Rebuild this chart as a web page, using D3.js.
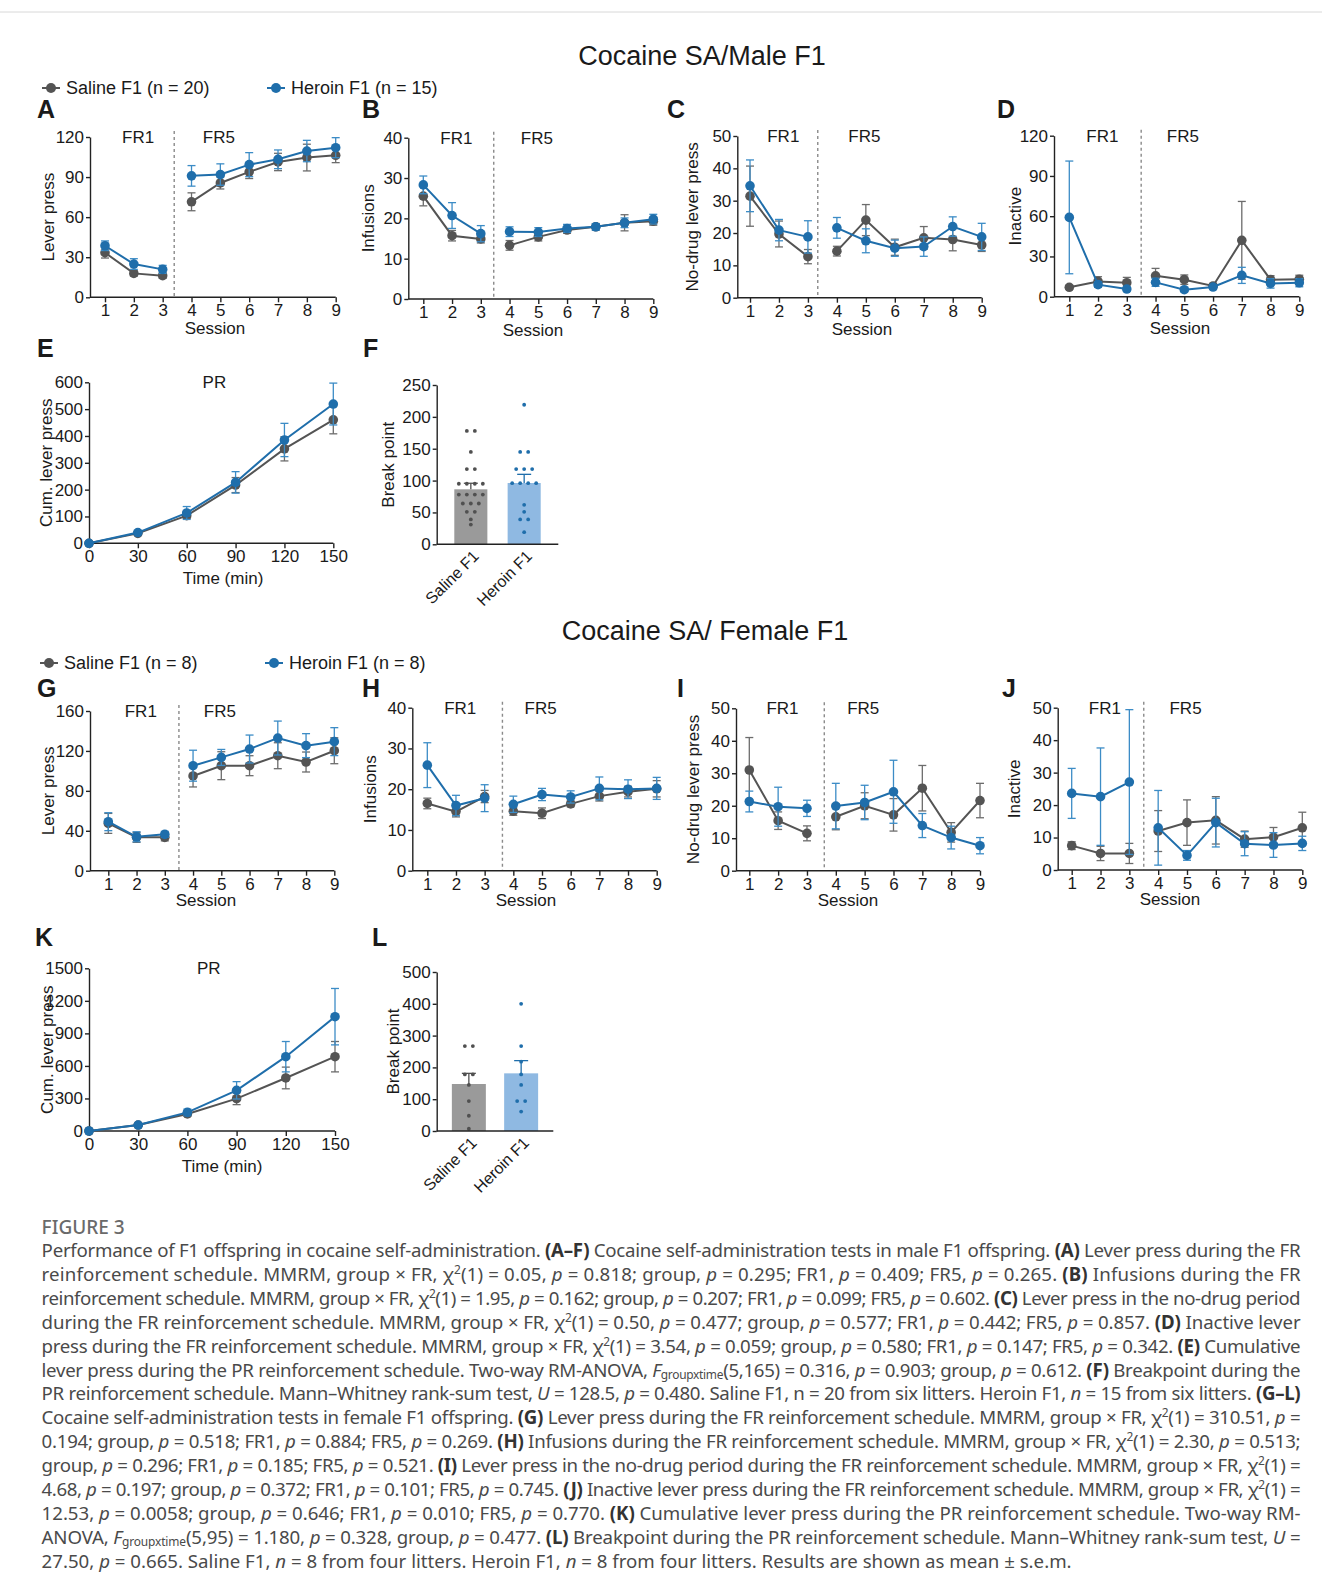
<!DOCTYPE html>
<html>
<head>
<meta charset="utf-8">
<script src="https://cdn.jsdelivr.net/npm/d3@7"></script>
<style>
  body { margin: 0; background: #fff; }
  svg text { font-family: "Liberation Sans", Arial, sans-serif; fill: #1a1a1a; }
  svg .cap text { font-family: "Noto Sans", sans-serif; fill: #4a4a4a; }
</style>
</head>
<body>
<svg id="fig" width="1322" height="1591"></svg>
<script>
// ---- data ----
var sessions = [1, 2, 3, 4, 5, 6, 7, 8, 9];
var timeMin = [0, 30, 60, 90, 120, 150];
var groups = ["Saline F1", "Heroin F1"];

// male F1 (A-F)
var leverSalM = [33.4, 17.9, 16.2, 71.5, 85.6, 93.9, 101.3, 104.6, 106.3];
var leverSalMErr = [4, 2, 2, 6.7, 4.5, 5, 6.5, 10, 5.5];
var leverHerM = [38.6, 24.9, 20.9, 90.9, 91.9, 99.3, 103.3, 109.5, 112];
var leverHerMErr = [3.6, 4, 3, 7.7, 8, 9, 7, 8, 7.5];

var infSalM = [25.5, 15.7, 14.9, 13.3, 15.4, 17.1, 17.9, 18.9, 19.3];
var infSalMErr = [2.4, 1.3, 1, 1.2, 1, 0.8, 0.8, 2, 1];
var infHerM = [28.3, 20.7, 16.2, 16.7, 16.6, 17.5, 17.9, 18.9, 19.8];
var infHerMErr = [2.2, 3.2, 2, 1.2, 1.1, 1, 0.8, 1.2, 1.2];

var noDrugSalM = [31.4, 19.7, 12.7, 14.4, 24, 15.6, 18.5, 18, 16.3];
var noDrugSalMErr = [9.3, 4, 2.2, 1.5, 4.8, 2.5, 3.5, 3.5, 2];
var noDrugHerM = [34.6, 20.9, 18.8, 21.6, 17.6, 15.3, 15.8, 22, 18.8];
var noDrugHerMErr = [8, 3.3, 5, 3.2, 3.7, 2.5, 3, 3, 4.2];

var inactSalM = [7, 11.4, 10.4, 15.6, 12.7, 8, 42, 12.7, 13];
var inactSalMErr = [1.5, 3.5, 4, 5.5, 3.5, 1, 29, 3, 3];
var inactHerM = [59.1, 9, 5.7, 10.7, 5.2, 7.2, 15.9, 9.9, 10.4];
var inactHerMErr = [42, 2, 1.5, 3, 1.5, 1.5, 6, 3.5, 3];

var cumSalM = [0, 37, 103, 217, 352, 460];
var cumSalMErr = [0, 5, 10, 28, 45, 52];
var cumHerM = [0, 40, 113, 227, 385, 519];
var cumHerMErr = [0, 5, 24, 40, 62, 78];

var bpSalM = [178, 178, 145, 118, 118, 95, 95, 95, 95, 78, 78, 78, 78, 64, 64, 64, 51, 51, 39, 31];
var bpHerM = [219, 145, 145, 118, 118, 118, 96, 96, 96, 96, 62, 51, 39, 39, 19];
var bpMeanM = [86.3, 96.2];
var bpSemM = [9.5, 13.6];

// female F1 (G-L)
var leverSalF = [47.4, 33.4, 33.4, 94.9, 105.2, 105.2, 115.2, 108.9, 120.2];
var leverSalFErr = [10, 5, 3.5, 11, 14, 10, 13, 10, 13];
var leverHerF = [49.1, 34, 36.4, 105.2, 113.5, 121.9, 132.9, 125.3, 129.3];
var leverHerFErr = [9, 5, 3, 15.5, 8, 14, 17, 12, 14];

var infSalF = [16.5, 14.5, 18.2, 14.6, 14.1, 16.4, 18.3, 19.4, 20.1];
var infSalFErr = [1.3, 1.3, 1.5, 1, 1.3, 0.7, 1.2, 1.3, 2];
var infHerF = [25.9, 16, 17.8, 16.3, 18.7, 18.1, 20.2, 20, 20.2];
var infHerFErr = [5.5, 2.5, 3.3, 2, 1.5, 1.5, 2.8, 2.3, 2.7];

var noDrugSalF = [31, 15.4, 11.5, 16.6, 20, 17.2, 25.4, 11.8, 21.6];
var noDrugSalFErr = [10, 2.7, 2.3, 4, 4, 5, 7, 3, 5.3];
var noDrugHerF = [21.3, 19.7, 19.2, 19.9, 21, 24.3, 13.9, 10.2, 7.7];
var noDrugHerFErr = [3.2, 6, 2.5, 7, 5.3, 9.7, 3.7, 3.5, 2.5];

var inactSalF = [7.5, 5.1, 5.1, 12, 14.6, 15.3, 9.5, 10.1, 13];
var inactSalFErr = [1.2, 2.2, 3.1, 6.3, 7, 7.3, 2.5, 3, 4.8];
var inactHerF = [23.6, 22.6, 27.1, 13, 4.5, 14.6, 8.1, 7.7, 8.2];
var inactHerFErr = [7.7, 15, 22.3, 11.5, 1.5, 7.5, 3.7, 3.8, 2.2];

var cumSalF = [0, 55, 157, 298, 489, 685];
var cumSalFErr = [0, 10, 20, 55, 100, 140];
var cumHerF = [0, 55, 172, 375, 685, 1054];
var cumHerFErr = [0, 10, 30, 80, 140, 260];

var bpSalF = [267, 267, 178, 178, 145, 94, 48, 7];
var bpHerF = [400, 267, 218, 178, 145, 94, 94, 61];
var bpMeanF = [147.8, 181.3];
var bpSemF = [33.5, 40];

var caption = [
  "Performance of F1 offspring in cocaine self-administration. *(A–F)* Cocaine self-administration tests in male F1 offspring. *(A)* Lever press during the FR",
  "reinforcement schedule. MMRM, group × FR, χ^2^(1) = 0.05, _p_ = 0.818; group, _p_ = 0.295; FR1, _p_ = 0.409; FR5, _p_ = 0.265. *(B)* Infusions during the FR",
  "reinforcement schedule. MMRM, group × FR, χ^2^(1) = 1.95, _p_ = 0.162; group, _p_ = 0.207; FR1, _p_ = 0.099; FR5, _p_ = 0.602. *(C)* Lever press in the no-drug period",
  "during the FR reinforcement schedule. MMRM, group × FR, χ^2^(1) = 0.50, _p_ = 0.477; group, _p_ = 0.577; FR1, _p_ = 0.442; FR5, _p_ = 0.857. *(D)* Inactive lever",
  "press during the FR reinforcement schedule. MMRM, group × FR, χ^2^(1) = 3.54, _p_ = 0.059; group, _p_ = 0.580; FR1, _p_ = 0.147; FR5, _p_ = 0.342. *(E)* Cumulative",
  "lever press during the PR reinforcement schedule. Two-way RM-ANOVA, _F_~groupxtime~(5,165) = 0.316, _p_ = 0.903; group, _p_ = 0.612. *(F)* Breakpoint during the",
  "PR reinforcement schedule. Mann–Whitney rank-sum test, _U_ = 128.5, _p_ = 0.480. Saline F1, n = 20 from six litters. Heroin F1, _n_ = 15 from six litters. *(G–L)*",
  "Cocaine self-administration tests in female F1 offspring. *(G)* Lever press during the FR reinforcement schedule. MMRM, group × FR, χ^2^(1) = 310.51, _p_ =",
  "0.194; group, _p_ = 0.518; FR1, _p_ = 0.884; FR5, _p_ = 0.269. *(H)* Infusions during the FR reinforcement schedule. MMRM, group × FR, χ^2^(1) = 2.30, _p_ = 0.513;",
  "group, _p_ = 0.296; FR1, _p_ = 0.185; FR5, _p_ = 0.521. *(I)* Lever press in the no-drug period during the FR reinforcement schedule. MMRM, group × FR, χ^2^(1) =",
  "4.68, _p_ = 0.197; group, _p_ = 0.372; FR1, _p_ = 0.101; FR5, _p_ = 0.745. *(J)* Inactive lever press during the FR reinforcement schedule. MMRM, group × FR, χ^2^(1) =",
  "12.53, _p_ = 0.0058; group, _p_ = 0.646; FR1, _p_ = 0.010; FR5, _p_ = 0.770. *(K)* Cumulative lever press during the PR reinforcement schedule. Two-way RM-",
  "ANOVA, _F_~groupxtime~(5,95) = 1.180, _p_ = 0.328, group, _p_ = 0.477. *(L)* Breakpoint during the PR reinforcement schedule. Mann–Whitney rank-sum test, _U_ =",
  "27.50, _p_ = 0.665. Saline F1, _n_ = 8 from four litters. Heroin F1, _n_ = 8 from four litters. Results are shown as mean ± s.e.m."
];

// ---- drawing ----
var GREY = "#545454", GREY_ERR = "#6c6c6c", BLUE = "#1f6eab", BLUE_ERR = "#3c8cc6";
var FS = 17;

var svg = d3.select("#fig");

svg.append("line")
  .attr("x1", 0).attr("x2", 1322).attr("y1", 12).attr("y2", 12)
  .attr("stroke", "#d8d8d8").attr("stroke-width", 1);

function styleAxis(ax) {
  ax.attr("font-size", FS).attr("font-family", null);
  ax.selectAll("path, line").attr("stroke", "#222").attr("stroke-width", 1.4);
  ax.selectAll("text").attr("fill", "#1a1a1a");
}

function drawSeries(g, x, y, xs, vals, errs, col, errCol, segs) {
  var pts = xs.map(function(xv, i) { return {x: xv, v: vals[i], e: errs[i]}; });
  pts.forEach(function(d) {
    if (!d.e) return;
    var cx = x(d.x);
    g.append("line").attr("x1", cx).attr("x2", cx)
      .attr("y1", y(d.v - d.e)).attr("y2", y(d.v + d.e))
      .attr("stroke", errCol).attr("stroke-width", 1.3);
    [d.v - d.e, d.v + d.e].forEach(function(yv) {
      g.append("line").attr("x1", cx - 4).attr("x2", cx + 4)
        .attr("y1", y(yv)).attr("y2", y(yv))
        .attr("stroke", errCol).attr("stroke-width", 1.3);
    });
  });
  var line = d3.line().x(function(d) { return x(d.x); }).y(function(d) { return y(d.v); });
  segs.forEach(function(s) {
    g.append("path")
      .datum(pts.filter(function(d) { return d.x >= s[0] && d.x <= s[1]; }))
      .attr("d", line).attr("fill", "none")
      .attr("stroke", col).attr("stroke-width", 2);
  });
  g.selectAll(null).data(pts).enter().append("circle")
    .attr("cx", function(d) { return x(d.x); })
    .attr("cy", function(d) { return y(d.v); })
    .attr("r", 4.8).attr("fill", col);
}

function linePanel(p) {
  var g = svg.append("g");
  var x = d3.scaleLinear().domain(p.xDomain).range([p.first, p.last]);
  var y = d3.scaleLinear().domain([0, p.yMax]).range([p.bottom, p.top]);

  g.append("text").attr("x", p.lx).attr("y", p.ly)
    .attr("font-size", 25).attr("font-weight", "bold").text(p.letter);

  if (p.dash) {
    g.append("line").attr("x1", x(p.dash)).attr("x2", x(p.dash))
      .attr("y1", p.top - 6).attr("y2", p.bottom)
      .attr("stroke", "#8a8a8a").attr("stroke-width", 1.4)
      .attr("stroke-dasharray", "3,3");
    g.append("text").attr("x", x(2.15)).attr("y", p.top + 6)
      .attr("text-anchor", "middle").attr("font-size", FS).text("FR1");
    g.append("text").attr("x", x(4.95)).attr("y", p.top + 6)
      .attr("text-anchor", "middle").attr("font-size", FS).text("FR5");
  }
  if (p.title) {
    g.append("text").attr("x", x(p.titleAt)).attr("y", p.top + 6)
      .attr("text-anchor", "middle").attr("font-size", FS).text(p.title);
  }

  var ya = g.append("g").attr("transform", "translate(" + p.left + ",0)")
    .call(d3.axisLeft(y).tickValues(d3.range(0, p.yMax + 0.01, p.yStep))
      .tickFormat(d3.format("d"))
      .tickSize(4).tickPadding(2).tickSizeOuter(0));
  styleAxis(ya);

  var xa = g.append("g").attr("transform", "translate(0," + p.bottom + ")")
    .call(d3.axisBottom(x).tickValues(p.xTicks).tickSize(5).tickPadding(2));
  xa.select(".domain").remove();
  styleAxis(xa);
  g.append("line").attr("x1", p.left).attr("x2", p.last)
    .attr("y1", p.bottom).attr("y2", p.bottom)
    .attr("stroke", "#222").attr("stroke-width", 1.4);

  g.append("text")
    .attr("transform", "translate(" + (p.left - p.ylabDx) + "," + ((p.top + p.bottom) / 2) + ") rotate(-90)")
    .attr("text-anchor", "middle").attr("dominant-baseline", "central")
    .attr("font-size", FS).text(p.ylab);
  g.append("text").attr("x", p.xlabX).attr("y", p.bottom + p.xlabDy)
    .attr("text-anchor", "middle").attr("font-size", FS).text(p.xlab);

  drawSeries(g, x, y, p.xs, p.sal, p.salErr, GREY, GREY_ERR, p.segs);
  drawSeries(g, x, y, p.xs, p.her, p.herErr, BLUE, BLUE_ERR, p.segs);
}

function barPanel(p) {
  var g = svg.append("g");
  var x = d3.scaleBand().domain(groups).range([p.left, p.right])
    .paddingInner(p.pi).paddingOuter(p.po);
  var y = d3.scaleLinear().domain([0, p.yMax]).range([p.bottom, p.top]);

  g.append("text").attr("x", p.lx).attr("y", p.ly)
    .attr("font-size", 25).attr("font-weight", "bold").text(p.letter);

  var bars = [
    {k: groups[0], dots: p.sal, m: p.mean[0], e: p.sem[0], fill: "#9a9a9a", dot: "#505050"},
    {k: groups[1], dots: p.her, m: p.mean[1], e: p.sem[1], fill: "#8fb9e2", dot: BLUE}
  ];
  bars.forEach(function(b) {
    var cx = x(b.k) + x.bandwidth() / 2;
    g.append("rect").attr("x", x(b.k)).attr("y", y(b.m))
      .attr("width", x.bandwidth()).attr("height", y(0) - y(b.m))
      .attr("fill", b.fill);
    g.append("line").attr("x1", cx).attr("x2", cx)
      .attr("y1", y(b.m)).attr("y2", y(b.m + b.e))
      .attr("stroke", b.dot).attr("stroke-width", 1.3);
    g.append("line").attr("x1", cx - 7).attr("x2", cx + 7)
      .attr("y1", y(b.m + b.e)).attr("y2", y(b.m + b.e))
      .attr("stroke", b.dot).attr("stroke-width", 1.3);
    // spread equal values sideways
    var rows = d3.groups(b.dots, function(d) { return d; });
    rows.forEach(function(r) {
      var n = r[1].length;
      r[1].forEach(function(v, i) {
        g.append("circle").attr("cx", cx + (i - (n - 1) / 2) * 8)
          .attr("cy", y(v)).attr("r", 1.9).attr("fill", b.dot);
      });
    });
    g.append("text")
      .attr("transform", "translate(" + (cx + 9) + "," + (p.bottom + 13) + ") rotate(-45)")
      .attr("text-anchor", "end").attr("font-size", 16).text(b.k);
  });

  var ya = g.append("g").attr("transform", "translate(" + p.left + ",0)")
    .call(d3.axisLeft(y).tickValues(d3.range(0, p.yMax + 0.01, p.yStep))
      .tickSize(4).tickPadding(2).tickSizeOuter(0));
  styleAxis(ya);
  g.append("line").attr("x1", p.left).attr("x2", p.right)
    .attr("y1", p.bottom).attr("y2", p.bottom)
    .attr("stroke", "#222").attr("stroke-width", 1.4);

  g.append("text")
    .attr("transform", "translate(" + (p.left - p.ylabDx) + "," + ((p.top + p.bottom) / 2) + ") rotate(-90)")
    .attr("text-anchor", "middle").attr("dominant-baseline", "central")
    .attr("font-size", FS).text("Break point");
}

function legend(y, items) {
  items.forEach(function(it) {
    svg.append("line").attr("x1", it.x).attr("x2", it.x + 18)
      .attr("y1", y).attr("y2", y).attr("stroke", it.col).attr("stroke-width", 2);
    svg.append("circle").attr("cx", it.x + 9).attr("cy", y).attr("r", 5).attr("fill", it.col);
    svg.append("text").attr("x", it.x + 24).attr("y", y + 6)
      .attr("font-size", 18).text(it.label);
  });
}

function title(x, y, t) {
  svg.append("text").attr("x", x).attr("y", y).attr("text-anchor", "middle")
    .attr("font-size", 27).text(t);
}

var sessSegs = [[1, 3], [4, 9]];
var timeSegs = [[0, 150]];

// ---- male ----
title(702, 65, "Cocaine SA/Male F1");
legend(88, [
  {x: 42, col: GREY, label: "Saline F1 (n = 20)"},
  {x: 267, col: BLUE, label: "Heroin F1 (n = 15)"}
]);

linePanel({letter: "A", lx: 37, ly: 118, left: 90, first: 105, last: 335.7, top: 137, bottom: 297.3,
  xDomain: [1, 9], xTicks: sessions, xs: sessions, yMax: 120, yStep: 30, dash: 3.4,
  ylab: "Lever press", ylabDx: 42, xlab: "Session", xlabX: 215, xlabDy: 37,
  sal: leverSalM, salErr: leverSalMErr, her: leverHerM, herErr: leverHerMErr, segs: sessSegs});
linePanel({letter: "B", lx: 362, ly: 118, left: 408.3, first: 423.3, last: 653.3, top: 137.7, bottom: 299,
  xDomain: [1, 9], xTicks: sessions, xs: sessions, yMax: 40, yStep: 10, dash: 3.45,
  ylab: "Infusions", ylabDx: 40, xlab: "Session", xlabX: 533, xlabDy: 37,
  sal: infSalM, salErr: infSalMErr, her: infHerM, herErr: infHerMErr, segs: sessSegs});
linePanel({letter: "C", lx: 667, ly: 118, left: 737.3, first: 750, last: 981.7, top: 136, bottom: 297.7,
  xDomain: [1, 9], xTicks: sessions, xs: sessions, yMax: 50, yStep: 10, dash: 3.34,
  ylab: "No-drug lever press", ylabDx: 45, xlab: "Session", xlabX: 862, xlabDy: 37,
  sal: noDrugSalM, salErr: noDrugSalMErr, her: noDrugHerM, herErr: noDrugHerMErr, segs: sessSegs});
linePanel({letter: "D", lx: 997, ly: 118, left: 1054, first: 1069.3, last: 1299.3, top: 135.7, bottom: 296.7,
  xDomain: [1, 9], xTicks: sessions, xs: sessions, yMax: 120, yStep: 30, dash: 3.5,
  ylab: "Inactive", ylabDx: 39, xlab: "Session", xlabX: 1180, xlabDy: 37,
  sal: inactSalM, salErr: inactSalMErr, her: inactHerM, herErr: inactHerMErr, segs: sessSegs});
linePanel({letter: "E", lx: 37, ly: 357, left: 89, first: 89, last: 333.3, top: 382.3, bottom: 543.3,
  xDomain: [0, 150], xTicks: timeMin, xs: timeMin, yMax: 600, yStep: 100,
  title: "PR", titleAt: 77,
  ylab: "Cum. lever press", ylabDx: 43, xlab: "Time (min)", xlabX: 223, xlabDy: 41,
  sal: cumSalM, salErr: cumSalMErr, her: cumHerM, herErr: cumHerMErr, segs: timeSegs});
barPanel({letter: "F", lx: 363, ly: 357, left: 436.7, right: 558.3, top: 385, bottom: 544.3,
  yMax: 250, yStep: 50, pi: 0.38, po: 0.33, ylabDx: 48,
  sal: bpSalM, her: bpHerM, mean: bpMeanM, sem: bpSemM});

// ---- female ----
title(705, 640, "Cocaine SA/ Female F1");
legend(663, [
  {x: 40, col: GREY, label: "Saline F1 (n = 8)"},
  {x: 265, col: BLUE, label: "Heroin F1 (n = 8)"}
]);

linePanel({letter: "G", lx: 37, ly: 697, left: 90, first: 108.3, last: 334.3, top: 711, bottom: 870.7,
  xDomain: [1, 9], xTicks: sessions, xs: sessions, yMax: 160, yStep: 40, dash: 3.5,
  ylab: "Lever press", ylabDx: 42, xlab: "Session", xlabX: 206, xlabDy: 35,
  sal: leverSalF, salErr: leverSalFErr, her: leverHerF, herErr: leverHerFErr, segs: sessSegs});
linePanel({letter: "H", lx: 362, ly: 697, left: 412.3, first: 427.3, last: 656.7, top: 707.7, bottom: 870.7,
  xDomain: [1, 9], xTicks: sessions, xs: sessions, yMax: 40, yStep: 10, dash: 3.62,
  ylab: "Infusions", ylabDx: 42, xlab: "Session", xlabX: 526, xlabDy: 35,
  sal: infSalF, salErr: infSalFErr, her: infHerF, herErr: infHerFErr, segs: sessSegs});
linePanel({letter: "I", lx: 677, ly: 697, left: 736, first: 749.3, last: 980, top: 708.3, bottom: 870.7,
  xDomain: [1, 9], xTicks: sessions, xs: sessions, yMax: 50, yStep: 10, dash: 3.6,
  ylab: "No-drug lever press", ylabDx: 43, xlab: "Session", xlabX: 848, xlabDy: 35,
  sal: noDrugSalF, salErr: noDrugSalFErr, her: noDrugHerF, herErr: noDrugHerFErr, segs: sessSegs});
linePanel({letter: "J", lx: 1002, ly: 697, left: 1057.7, first: 1071.7, last: 1302.3, top: 707.7, bottom: 870,
  xDomain: [1, 9], xTicks: sessions, xs: sessions, yMax: 50, yStep: 10, dash: 3.5,
  ylab: "Inactive", ylabDx: 43, xlab: "Session", xlabX: 1170, xlabDy: 35,
  sal: inactSalF, salErr: inactSalFErr, her: inactHerF, herErr: inactHerFErr, segs: sessSegs});
linePanel({letter: "K", lx: 35, ly: 946, left: 89, first: 89, last: 335, top: 968.3, bottom: 1131,
  xDomain: [0, 150], xTicks: timeMin, xs: timeMin, yMax: 1500, yStep: 300,
  title: "PR", titleAt: 73,
  ylab: "Cum. lever press", ylabDx: 42, xlab: "Time (min)", xlabX: 222, xlabDy: 41,
  sal: cumSalF, salErr: cumSalFErr, her: cumHerF, herErr: cumHerFErr, segs: timeSegs});
barPanel({letter: "L", lx: 372, ly: 946, left: 436.7, right: 553.3, top: 972, bottom: 1131,
  yMax: 500, yStep: 100, pi: 0.35, po: 0.29, ylabDx: 43,
  sal: bpSalF, her: bpHerF, mean: bpMeanF, sem: bpSemF});

// ---- caption ----
function buildCaption(fs) {
  var cap = svg.append("g").attr("class", "cap");
  cap.append("text").attr("x", 41.6).attr("y", 1234).attr("font-size", fs * 1.02)
    .attr("font-weight", 500).style("fill", "#6a6a6a").text("FIGURE 3");
  var small = fs * 0.64;
  caption.forEach(function(str, i) {
    var t = cap.append("text").attr("x", 41.6).attr("y", 1257 + i * 23.9)
      .attr("font-size", fs);
    var shift = 0;
    str.split(/(\*[^*]+\*|_[^_]+_|\^[^^]+\^|~[^~]+~)/).forEach(function(part) {
      if (!part) return;
      var s = t.append("tspan");
      var c = part[0], e = part[part.length - 1];
      var want = 0;
      if (c === "*" && e === "*" && part.length > 1) {
        s.attr("font-weight", "bold").style("fill", "#333").text(part.slice(1, -1));
      } else if (c === "_" && e === "_") {
        s.attr("font-style", "italic").text(part.slice(1, -1));
      } else if (c === "^" && e === "^") {
        want = -fs * 0.38;
        s.attr("font-size", small).text(part.slice(1, -1));
      } else if (c === "~" && e === "~") {
        want = fs * 0.12;
        s.attr("font-size", small).text(part.slice(1, -1));
      } else {
        s.text(part);
      }
      if (want !== shift) { s.attr("dy", want - shift); shift = want; }
    });
    t.attr("data-line", i);
  });
  return cap;
}

var probe = buildCaption(16);
var lastW = probe.select("text[data-line='13']").node().getComputedTextLength();
probe.remove();
var capFs = 16 * 1031 / lastW;
var capG = buildCaption(capFs);
capG.selectAll("text").each(function() {
  var i = this.getAttribute("data-line");
  if (i !== null && +i < caption.length - 1) {
    d3.select(this).attr("textLength", 1259).attr("lengthAdjust", "spacing");
  }
});
</script>
</body>
</html>
